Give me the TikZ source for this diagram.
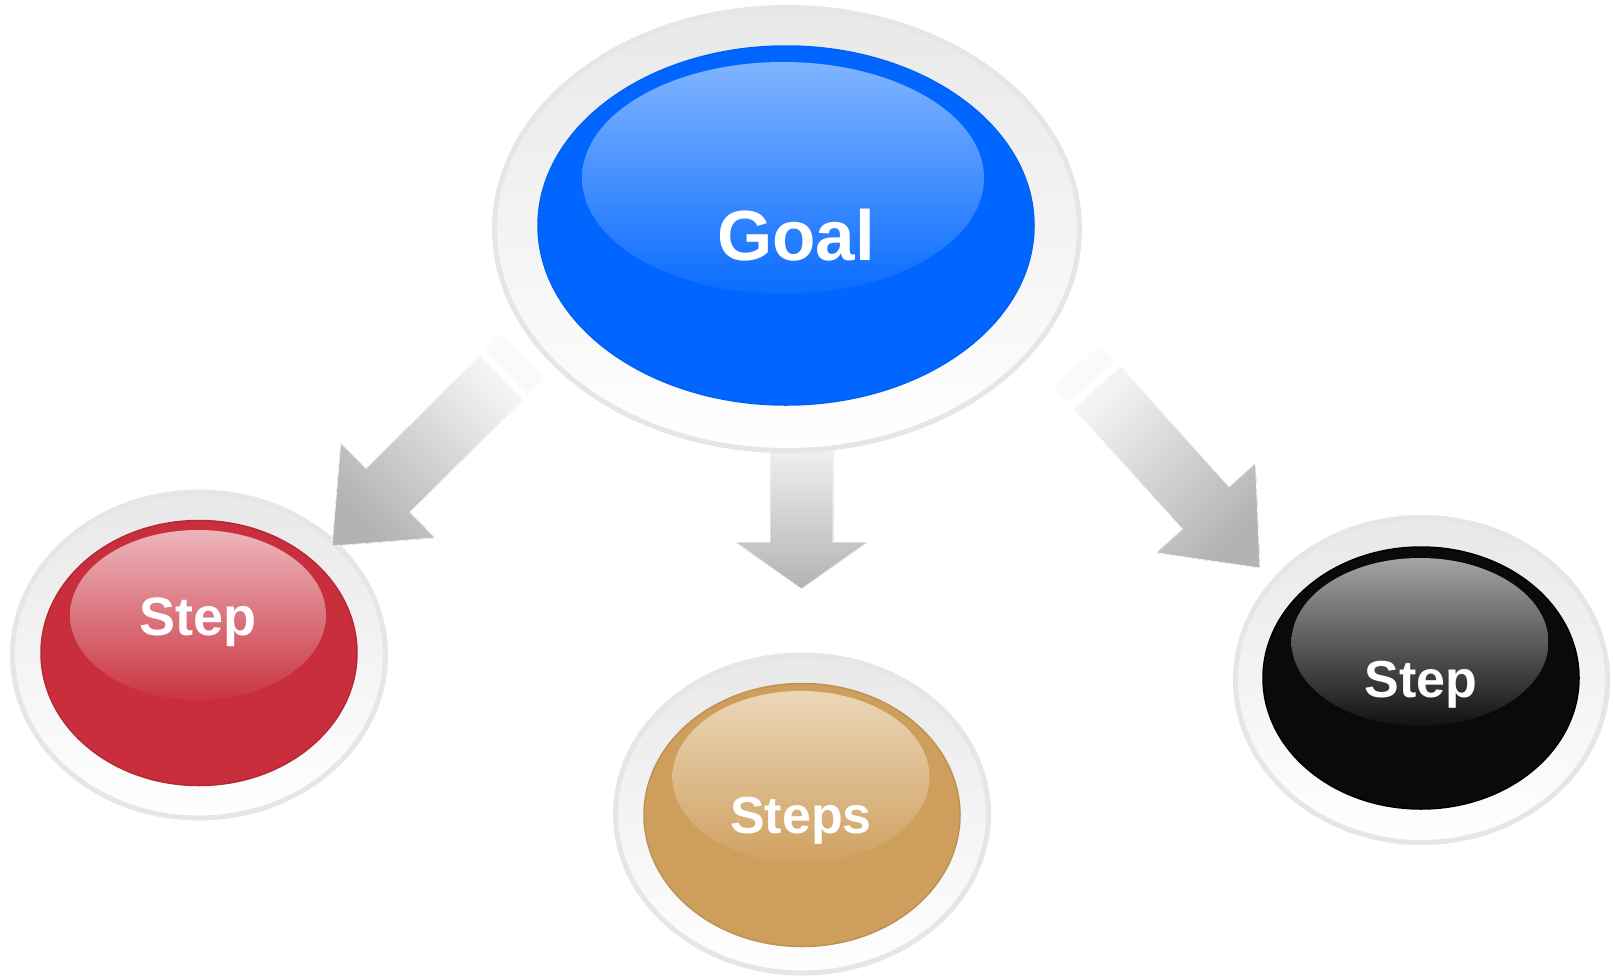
\documentclass[tikz,border=0pt]{standalone}
\usepackage{fontspec}
\setmainfont{Liberation Sans}
\usetikzlibrary{shapes.geometric,calc}

\definecolor{goalblue}{HTML}{0066FF}
\definecolor{goalhi}{HTML}{80B4FF}
\definecolor{stepred}{HTML}{C92E3C}
\definecolor{stephi}{HTML}{ECB6BB}
\definecolor{stepsorange}{HTML}{CE9E5C}
\definecolor{stepshi}{HTML}{EBD6B7}
\definecolor{stepblack}{HTML}{0A0A0A}
\definecolor{blackhi}{HTML}{A4A4A4}
\definecolor{ringline}{HTML}{E6E6E6}
\definecolor{ringtop}{HTML}{E8E8E8}
\definecolor{arrowlight}{HTML}{F3F3F3}
\definecolor{arrowdark}{HTML}{B3B3B3}

% block arrow: style, tail, tip, half shaft, half head, head length
\newcommand{\blockarrow}[6]{%
  \coordinate (#2-base) at ($(#3)!#6!(#2)$);
  \fill[#1] ($(#2)!#4!90:(#3)$) -- ($(#2-base)!#4!90:(#3)$)
    -- ($(#2-base)!#5!90:(#3)$) -- (#3)
    -- ($(#2-base)!#5!-90:(#3)$) -- ($(#2-base)!#4!-90:(#3)$)
    -- ($(#2)!#4!-90:(#3)$) -- cycle;
}

\begin{document}
\begin{tikzpicture}[x=1pt, y=-1pt,
    ring/.style={ellipse, draw=ringline, line width=5pt, top color=ringtop, bottom color=white, inner sep=0pt},
    button/.style={ellipse, inner sep=0pt, line width=1.5pt},
    shine/.style={ellipse, inner sep=0pt},
    btntext/.style={text=white, anchor=base, inner sep=0pt, font=\bfseries\fontsize{#1}{#1}\selectfont},
    grayarrow/.style={top color=arrowlight, bottom color=arrowdark, shading angle=#1, draw=white, line width=0.7pt},
    fadebar/.style={draw=arrowlight!45!white, line width=62pt}
]
\useasboundingbox (0,0) rectangle (1615,978);

% steps
\node[ring, minimum width=373pt, minimum height=326pt] (redring) at (199,655) {};
\node[button, fill=stepred, draw=stepred!90!black, minimum width=316pt, minimum height=265pt] (redbtn) at (199,653) {};
\node[shine, top color=stephi, bottom color=stepred!97!white, minimum width=256pt, minimum height=170pt] (redshine) at (198,615) {};
\node[btntext=54] (redtext) at (198,635) {Step};

\node[ring, minimum width=373pt, minimum height=318pt] (orangering) at (802,814) {};
\node[button, fill=stepsorange, draw=stepsorange!92!black, minimum width=316pt, minimum height=263pt] (orangebtn) at (802,815) {};
\node[shine, top color=stepshi, bottom color=stepsorange!97!white, minimum width=257pt, minimum height=172pt] (orangeshine) at (801,777) {};
\node[btntext=52] (orangetext) at (801,833) {Steps};

\node[ring, minimum width=372pt, minimum height=325pt] (blackring) at (1421.5,680) {};
\node[button, fill=stepblack, draw=black, minimum width=316pt, minimum height=262pt] (blackbtn) at (1421,678) {};
\node[shine, top color=blackhi, bottom color=stepblack!97!white, minimum width=257pt, minimum height=168pt] (blackshine) at (1420,642) {};
\node[btntext=52] (blacktext) at (1421,697) {Step};

% arrows
\coordinate (lt) at (501,378);
\coordinate (lh) at (332,546);
\draw[fadebar] ($(lt)!8pt!180:(lh)$) -- ($(lt)!30pt!180:(lh)$);
\blockarrow{grayarrow=-45}{lt}{lh}{31pt}{67pt}{79pt}

\coordinate (mt) at (801.5,440);
\coordinate (mh) at (801.5,589);
\blockarrow{grayarrow=0}{mt}{mh}{31.5pt}{66.5pt}{47pt}

\coordinate (rt) at (1097.5,388);
\coordinate (rh) at (1260,568);
\draw[fadebar] ($(rt)!8pt!180:(rh)$) -- ($(rt)!30pt!180:(rh)$);
\blockarrow{grayarrow=45}{rt}{rh}{31.5pt}{67pt}{81pt}

% goal
\node[ring, minimum width=585pt, minimum height=443pt] (goalring) at (787,229) {};
\node[button, fill=goalblue, draw=goalblue!95!black, minimum width=496pt, minimum height=359pt] (goalbtn) at (786,225.5) {};
\node[shine, top color=goalhi, bottom color=goalblue!96!white, minimum width=402pt, minimum height=232pt] (goalshine) at (783,178) {};
\node[btntext=71] (goaltext) at (796,260) {Goal};
\end{tikzpicture}
\end{document}
